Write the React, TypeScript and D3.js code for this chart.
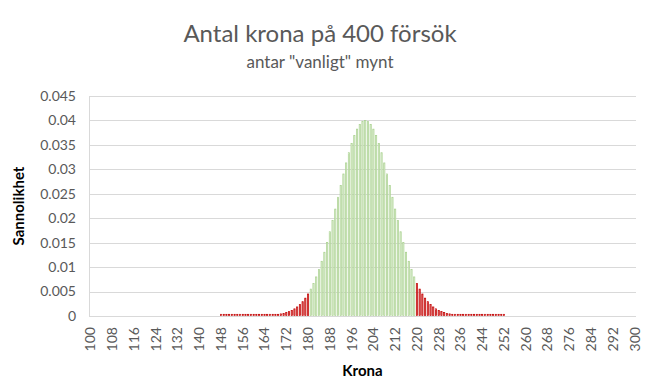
import React from "react";
import * as d3 from "d3";

// Categories: number of heads ("krona") 100..300
const categories: number[] = d3.range(100, 301);

// Probabilities for k = 148..252 (outside: empty cells)
const firstDefined = 148;
const probabilities: number[] = [
  0.00000, 0.00000, 0.00000, 0.00000, 0.00000, 0.00000, 0.00000, 0.00000, 0.00000, 0.00000,
  0.00000, 0.00000, 0.00001, 0.00001, 0.00002, 0.00003, 0.00004, 0.00006, 0.00009, 0.00012,
  0.00017, 0.00024, 0.00033, 0.00044, 0.00059, 0.00079, 0.00104, 0.00136, 0.00175, 0.00224,
  0.00283, 0.00355, 0.00440, 0.00540, 0.00656, 0.00789, 0.00940, 0.01109, 0.01294, 0.01496,
  0.01713, 0.01941, 0.02177, 0.02418, 0.02659, 0.02895, 0.03121, 0.03330, 0.03518, 0.03680,
  0.03812, 0.03908, 0.03967, 0.03987, 0.03967, 0.03908, 0.03812, 0.03680, 0.03518, 0.03330,
  0.03121, 0.02895, 0.02659, 0.02418, 0.02177, 0.01941, 0.01713, 0.01496, 0.01294, 0.01109,
  0.00940, 0.00789, 0.00656, 0.00540, 0.00440, 0.00355, 0.00283, 0.00224, 0.00175, 0.00136,
  0.00104, 0.00079, 0.00059, 0.00044, 0.00033, 0.00024, 0.00017, 0.00012, 0.00009, 0.00006,
  0.00004, 0.00003, 0.00002, 0.00001, 0.00001, 0.00000, 0.00000, 0.00000, 0.00000, 0.00000,
  0.00000, 0.00000, 0.00000, 0.00000, 0.00000,
];

// Rejection region bounds (red bars)
const lowerCritical = 180;
const upperCritical = 220;

const yTicks: number[] = [0, 0.005, 0.01, 0.015, 0.02, 0.025, 0.03, 0.035, 0.04, 0.045];
const xTickLabels: number[] = d3.range(100, 301, 8);

const title = "Antal krona på 400 försök";
const subtitle = 'antar "vanligt" mynt';
const yTitle = "Sannolikhet";
const xTitle = "Krona";

const W = 663;
const H = 383;
const plot = { left: 89, right: 636, top: 96, bottom: 316 };
const font = "Lato, 'Open Sans', sans-serif";

export default function App() {
  const x = d3
    .scaleBand<number>()
    .domain(categories)
    .range([plot.left, plot.right])
    .paddingInner(0.55)
    .paddingOuter(0.27);
  const y = d3.scaleLinear().domain([0, 0.045]).range([plot.bottom, plot.top]);

  const bars = probabilities.map((v, i) => ({ k: firstDefined + i, v }));
  const fmt = (t: number) => (t === 0 ? "0" : String(+t.toFixed(3)));

  return (
    <svg
      width={W}
      height={H}
      style={{ position: "absolute", left: 0, top: 0, background: "#fff" }}
    >
      <rect x={0} y={0} width={W} height={H} fill="#fff" />
      <text x={320} y={42} textAnchor="middle" fontFamily={font} fontSize={24} fill="#595959">
        {title}
      </text>
      <text x={320} y={68} textAnchor="middle" fontFamily={font} fontSize={17} fill="#595959">
        {subtitle}
      </text>

      {yTicks.map((t) => (
        <g key={t}>
          {t > 0 && (
            <line
              x1={plot.left}
              x2={plot.right}
              y1={Math.round(y(t)) + 0.5}
              y2={Math.round(y(t)) + 0.5}
              stroke="#d9d9d9"
              strokeWidth={1}
            />
          )}
          <text
            x={76}
            y={y(t)}
            dy="0.35em"
            textAnchor="end"
            fontFamily={font}
            fontSize={14}
            fill="#595959"
          >
            {fmt(t)}
          </text>
        </g>
      ))}

      <line
        x1={plot.left + 0.5}
        x2={plot.left + 0.5}
        y1={plot.top}
        y2={plot.bottom}
        stroke="#d9d9d9"
      />

      {bars.map((b) => {
        const red = b.k <= lowerCritical || b.k >= upperCritical;
        const x0 = x(b.k)!;
        const y0 = Math.min(y(b.v), plot.bottom - 1.2);
        const h = plot.bottom - y0;
        return (
          <rect
            key={b.k}
            x={x0}
            y={y0 - 0.5}
            width={x.bandwidth()}
            height={h}
            fill={red ? "#e46c6c" : "#e2f0d9"}
            stroke={red ? "#c00000" : "#a9d18e"}
            strokeWidth={0.7}
          />
        );
      })}

      <line
        x1={plot.left}
        x2={plot.right}
        y1={plot.bottom + 0.5}
        y2={plot.bottom + 0.5}
        stroke="#d9d9d9"
      />

      {xTickLabels.map((k) => {
        const cx = x(k)! + x.bandwidth() / 2;
        return (
          <text
            key={k}
            transform={`translate(${cx},${plot.bottom + 11}) rotate(-90)`}
            dy="0.35em"
            textAnchor="end"
            fontFamily={font}
            fontSize={14}
            fill="#595959"
          >
            {k}
          </text>
        );
      })}

      <text
        transform={`translate(24,${(plot.top + plot.bottom) / 2}) rotate(-90)`}
        textAnchor="middle"
        fontFamily={font}
        fontSize={15}
        fontWeight="bold"
        fill="#000"
      >
        {yTitle}
      </text>
      <text
        x={(plot.left + plot.right) / 2}
        y={376}
        textAnchor="middle"
        fontFamily={font}
        fontSize={15}
        fontWeight="bold"
        fill="#000"
      >
        {xTitle}
      </text>
    </svg>
  );
}
